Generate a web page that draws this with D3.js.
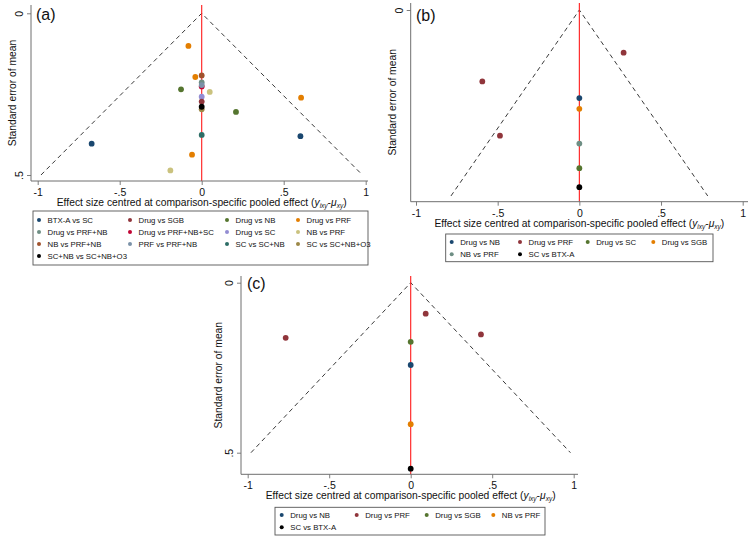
<!DOCTYPE html>
<html><head><meta charset="utf-8">
<script src="https://cdn.jsdelivr.net/npm/d3@7"></script>
<style>body{margin:0;background:#fff}svg{display:block}text{font-family:"Liberation Sans",Arial,sans-serif}</style>
</head><body>
<svg id="chart" width="751" height="540"></svg>
<script>
// ---------- DATA ----------
const xTicks = [-1, -0.5, 0, 0.5, 1];
const xTickLabels = ["-1", "-.5", "0", ".5", "1"];
const yTicksA = [0, 0.5], yTickLabelsA = ["0", ".5"];
const yTicksB = [0], yTickLabelsB = ["0"];
const yTicksC = [0, 0.5], yTickLabelsC = ["0", ".5"];

const seriesA = ["BTX-A vs SC","Drug vs SGB","Drug vs NB","Drug vs PRF","Drug vs PRF+NB","Drug vs PRF+NB+SC","Drug vs SC","NB vs PRF","NB vs PRF+NB","PRF vs PRF+NB","SC vs SC+NB","SC vs SC+NB+O3","SC+NB vs SC+NB+O3"];
const seriesB = ["Drug vs NB","Drug vs PRF","Drug vs SC","Drug vs SGB","NB vs PRF","SC vs BTX-A"];
const seriesC = ["Drug vs NB","Drug vs PRF","Drug vs SGB","NB vs PRF","SC vs BTX-A"];

// [series, centred effect, standard error]
const pointsA = [
  ["Drug vs PRF", -0.081, 0.101],
  ["NB vs PRF+NB", 0, 0.192],
  ["Drug vs PRF", -0.039, 0.197],
  ["Drug vs PRF+NB+SC", 0, 0.226],
  ["Drug vs PRF+NB", 0, 0.214],
  ["PRF vs PRF+NB", 0, 0.222],
  ["Drug vs NB", -0.126, 0.235],
  ["NB vs PRF", 0.049, 0.243],
  ["Drug vs PRF", 0.606, 0.261],
  ["Drug vs SC", 0, 0.258],
  ["Drug vs SGB", 0, 0.273],
  ["SC vs SC+NB+O3", 0, 0.297],
  ["SC+NB vs SC+NB+O3", 0, 0.289],
  ["Drug vs NB", 0.209, 0.305],
  ["SC vs SC+NB", 0, 0.376],
  ["BTX-A vs SC", 0.602, 0.380],
  ["BTX-A vs SC", -0.671, 0.403],
  ["Drug vs PRF", -0.059, 0.437],
  ["NB vs PRF", -0.191, 0.486]
];
const pointsB = [
  ["Drug vs PRF", 0.271, 0.092],
  ["Drug vs PRF", -0.594, 0.154],
  ["Drug vs NB", 0, 0.190],
  ["Drug vs SGB", 0, 0.213],
  ["Drug vs PRF", -0.486, 0.271],
  ["NB vs PRF", 0, 0.288],
  ["Drug vs SC", 0, 0.341],
  ["SC vs BTX-A", 0, 0.382]
];
const pointsC = [
  ["Drug vs PRF", 0.092, 0.091],
  ["Drug vs PRF", 0.431, 0.152],
  ["Drug vs PRF", -0.767, 0.162],
  ["Drug vs SGB", 0, 0.174],
  ["Drug vs NB", 0, 0.242],
  ["NB vs PRF", 0, 0.416],
  ["SC vs BTX-A", 0, 0.547]
];
const funnelSeA = 0.5, funnelSeB = 0.401, funnelSeC = 0.5;

// ---------- STYLE ----------
const colorsA = ["#1a476f","#90353b","#55752f","#e37e00","#6e8e84","#c10534","#938dd2","#cac27e","#a0522d","#7b92a8","#2d6d66","#9c8847","#000000"];
const colorsB = ["#1a476f","#90353b","#55752f","#e37e00","#6e8e84","#000000"];
const colorsC = ["#1a476f","#90353b","#55752f","#e37e00","#000000"];

const svg = d3.select("#chart");
const axisColor = "#6f6f6f";

function panel(cfg) {
  const g = svg.append("g");
  const x = d3.scaleLinear().domain([-1, 1]).range(cfg.xr);
  const y = d3.scaleLinear().domain(cfg.yd).range(cfg.yr);
  const color = d3.scaleOrdinal().domain(cfg.series).range(cfg.colors);

  // funnel
  const fl = [[-1.96 * cfg.funnel, cfg.funnel], [0, 0], [1.96 * cfg.funnel, cfg.funnel]];
  g.append("path").datum(fl)
    .attr("d", d3.line().x(d => x(d[0])).y(d => y(d[1])))
    .attr("fill", "none").attr("stroke", "#222").attr("stroke-width", 0.9)
    .attr("stroke-dasharray", "4.5,3.5");
  // red zero line
  g.append("line").attr("x1", x(0)).attr("x2", x(0))
    .attr("y1", cfg.top).attr("y2", cfg.bottom)
    .attr("stroke", "#ff1a1a").attr("stroke-width", 1.1);

  // points
  g.selectAll("circle.pt").data(cfg.points).join("circle")
    .attr("class", "pt")
    .attr("cx", d => x(d[1])).attr("cy", d => y(d[2])).attr("r", 2.9)
    .attr("fill", d => color(d[0]));

  // axes
  const xa = g.append("g").attr("transform", `translate(0,${cfg.bottom})`)
    .call(d3.axisBottom(x).tickValues(xTicks).tickFormat((d, i) => xTickLabels[i]).tickSize(4).tickPadding(3));
  const ya = g.append("g").attr("transform", `translate(${cfg.left},0)`)
    .call(d3.axisLeft(y).tickValues(cfg.yticks).tickFormat((d, i) => cfg.ytickLabels[i]).tickSize(4).tickPadding(3));
  [xa, ya].forEach(a => {
    a.select(".domain").remove();
    a.selectAll(".tick line").attr("stroke", axisColor).attr("stroke-width", 0.9);
    a.selectAll(".tick text").attr("fill", "#111").style("font-size", "10.5px")
      .style("font-family", '"Liberation Sans",Arial,sans-serif');
  });
  xa.selectAll(".tick text").attr("dy", null).attr("y", 15);
  ya.selectAll(".tick text").attr("x", null).attr("dy", null)
    .attr("text-anchor", "middle")
    .attr("transform", "translate(-8,0) rotate(-90)");
  g.append("line").attr("x1", cfg.left).attr("x2", cfg.right).attr("y1", cfg.bottom).attr("y2", cfg.bottom)
    .attr("stroke", axisColor).attr("stroke-width", 1);
  g.append("line").attr("x1", cfg.left).attr("x2", cfg.left).attr("y1", cfg.top).attr("y2", cfg.bottom)
    .attr("stroke", axisColor).attr("stroke-width", 1);

  // titles
  const t = g.append("text").attr("x", x(0)).attr("y", cfg.bottom + 25)
    .attr("text-anchor", "middle").style("font-size", "10.3px").attr("fill", "#111");
  t.append("tspan").text("Effect size centred at comparison-specific pooled effect (");
  t.append("tspan").text("y").style("font-style", "italic");
  t.append("tspan").text("ixy").style("font-style", "italic").style("font-size", "6.5px").attr("dy", 2);
  t.append("tspan").text("-").attr("dy", -2);
  t.append("tspan").text("μ").style("font-style", "italic");
  t.append("tspan").text("xy").style("font-style", "italic").style("font-size", "6.5px").attr("dy", 2);
  t.append("tspan").text(")").attr("dy", -2);

  g.append("text").attr("transform", `translate(${cfg.ytitleX},${(cfg.top + cfg.bottom) / 2}) rotate(-90)`)
    .attr("text-anchor", "middle").style("font-size", "10.3px").attr("fill", "#111")
    .text("Standard error of mean");

  g.append("text").attr("x", cfg.labelPos[0]).attr("y", cfg.labelPos[1])
    .style("font-size", "16px").attr("fill", "#111").text(cfg.label);

  // legend
  const lb = cfg.legendBox;
  g.append("rect").attr("x", lb[0]).attr("y", lb[1]).attr("width", lb[2] - lb[0]).attr("height", lb[3] - lb[1])
    .attr("fill", "#fff").attr("stroke", "#555").attr("stroke-width", 0.9);
  const items = g.selectAll("g.li").data(cfg.series).join("g").attr("class", "li")
    .attr("transform", (d, i) => `translate(${cfg.legendCols[i % 4]},${cfg.legendRow0 + Math.floor(i / 4) * cfg.legendStep})`);
  items.append("circle").attr("r", 2).attr("fill", d => color(d));
  items.append("text").attr("x", 8.5).attr("y", 3).style("font-size", "7.8px").attr("fill", "#111").text(d => d);
}

panel({
  left: 31, right: 368, top: 5, bottom: 181, xr: [37.7, 365.7], yd: [0, 0.5], yr: [13.3, 175],
  yticks: yTicksA, ytickLabels: yTickLabelsA, funnel: funnelSeA, series: seriesA, colors: colorsA,
  points: pointsA, label: "(a)", labelPos: [36, 20], ytitleX: 15.5,
  legendBox: [33, 211, 368, 265], legendCols: [39, 130, 227, 298], legendRow0: 220, legendStep: 12
});
panel({
  left: 410.7, right: 748, top: 3, bottom: 201.7, xr: [416, 742.7], yd: [0, 0.4], yr: [10, 195.5],
  yticks: yTicksB, ytickLabels: yTickLabelsB, funnel: funnelSeB, series: seriesB, colors: colorsB,
  points: pointsB, label: "(b)", labelPos: [416, 21], ytitleX: 396,
  legendBox: [445.7, 234, 713, 261.7], legendCols: [451.7, 520, 587.7, 653.3], legendRow0: 242, legendStep: 12.3
});
panel({
  left: 241, right: 578, top: 276, bottom: 474.3, xr: [247.7, 573.7], yd: [0, 0.5], yr: [282.7, 452.7],
  yticks: yTicksC, ytickLabels: yTickLabelsC, funnel: funnelSeC, series: seriesC, colors: colorsC,
  points: pointsC, label: "(c)", labelPos: [247, 289], ytitleX: 221.5,
  legendBox: [275, 507.3, 545, 535], legendCols: [281.7, 356.7, 426.7, 493.3], legendRow0: 515, legendStep: 12.3
});
</script>
</body></html>
